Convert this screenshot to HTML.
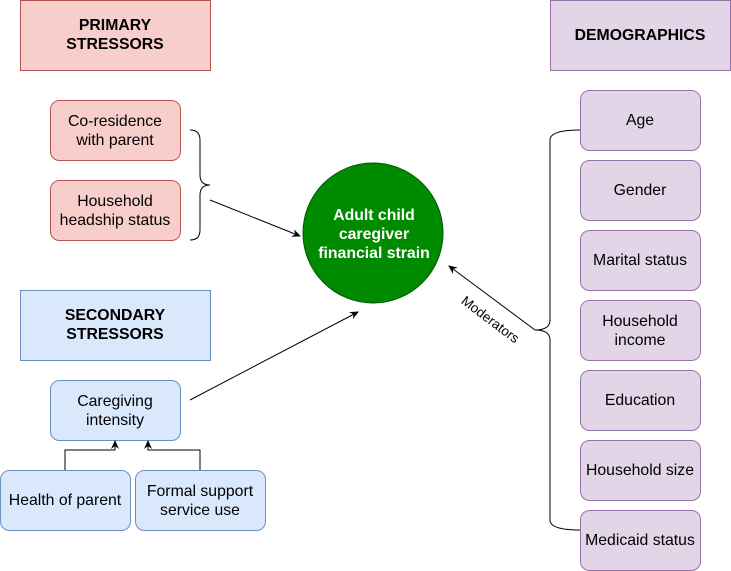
<!DOCTYPE html>
<html><head><style>body{margin:0;background:#fff}svg{display:block}text{font-family:"Liberation Sans",Arial,sans-serif;font-size:15.8px;fill:#000}</style></head><body>
<svg width="731" height="571" viewBox="0 0 731 571" xmlns="http://www.w3.org/2000/svg">
<defs><marker id="a" markerWidth="10" markerHeight="10" refX="8" refY="5" orient="auto" markerUnits="userSpaceOnUse"><path d="M0,1 L9,5 L0,9 L3,5 Z" fill="#000"/></marker></defs>
<g stroke-width="1">
<rect x="20.5" y="0.5" width="190" height="70" fill="#f8cecc" stroke="#b85450"/>
<rect x="550.5" y="0.5" width="180" height="70" fill="#e1d5e7" stroke="#9673a6"/>
<rect x="20.5" y="290.5" width="190" height="70" fill="#dae8fc" stroke="#6c8ebf"/>
<rect x="50.5" y="100.5" width="130" height="60" rx="9" fill="#f8cecc" stroke="#b85450"/>
<rect x="50.5" y="180.5" width="130" height="60" rx="9" fill="#f8cecc" stroke="#b85450"/>
<rect x="50.5" y="380.5" width="130" height="60" rx="9" fill="#dae8fc" stroke="#6c8ebf"/>
<rect x="0.5" y="470.5" width="130" height="60" rx="9" fill="#dae8fc" stroke="#6c8ebf"/>
<rect x="135.5" y="470.5" width="130" height="60" rx="9" fill="#dae8fc" stroke="#6c8ebf"/>
<g fill="#e1d5e7" stroke="#9673a6">
<rect x="580.5" y="90.5" width="120" height="60" rx="9"/>
<rect x="580.5" y="160.5" width="120" height="60" rx="9"/>
<rect x="580.5" y="230.5" width="120" height="60" rx="9"/>
<rect x="580.5" y="300.5" width="120" height="60" rx="9"/>
<rect x="580.5" y="370.5" width="120" height="60" rx="9"/>
<rect x="580.5" y="440.5" width="120" height="60" rx="9"/>
<rect x="580.5" y="510.5" width="120" height="60" rx="9"/>
</g>
<circle cx="373" cy="233" r="70" fill="#008a00" stroke="#005700"/>
</g>
<g fill="none" stroke="#000" stroke-width="1">
<path d="M190,130 Q200,130 200,140 L200,175 Q200,185 210,185 Q200,185 200,195 L200,230 Q200,240 190,240"/>
<path d="M580,130 Q550,130 550,140 L550,320 Q550,330 535,330 Q550,330 550,340 L550,520 Q550,530 580,530"/>
<path d="M210,200 L300,236" marker-end="url(#a)"/>
<path d="M190,400 L358,312" marker-end="url(#a)"/>
<path d="M535,330 L449,266" marker-end="url(#a)"/>
<path d="M65,470 L65,450 L115,450 L115,441" marker-end="url(#a)"/>
<path d="M200,470 L200,450 L148,450 L148,441" marker-end="url(#a)"/>
</g>
<g text-anchor="middle">
<text x="115" y="30" font-weight="bold">PRIMARY</text><text x="115" y="49" font-weight="bold">STRESSORS</text>
<text x="640" y="40" font-weight="bold">DEMOGRAPHICS</text>
<text x="115" y="320" font-weight="bold">SECONDARY</text><text x="115" y="339" font-weight="bold">STRESSORS</text>
<text x="115" y="126">Co-residence</text><text x="115" y="145">with parent</text>
<text x="115" y="206">Household</text><text x="115" y="225">headship status</text>
<text x="115" y="406">Caregiving</text><text x="115" y="425">intensity</text>
<text x="65" y="505">Health of parent</text>
<text x="200" y="496">Formal support</text><text x="200" y="515">service use</text>
<text x="640" y="125">Age</text>
<text x="640" y="195">Gender</text>
<text x="640" y="265">Marital status</text>
<text x="640" y="326">Household</text><text x="640" y="345">income</text>
<text x="640" y="405">Education</text>
<text x="640" y="475">Household size</text>
<text x="640" y="545">Medicaid status</text>
<g font-weight="bold"><text x="374" y="220" style="fill:#fff">Adult child</text><text x="374" y="239" style="fill:#fff">caregiver</text><text x="374" y="258" style="fill:#fff">financial strain</text></g>
<text x="490" y="324" transform="rotate(37 490 320)" style="font-size:13.5px">Moderators</text>
</g>
</svg>
</body></html>
